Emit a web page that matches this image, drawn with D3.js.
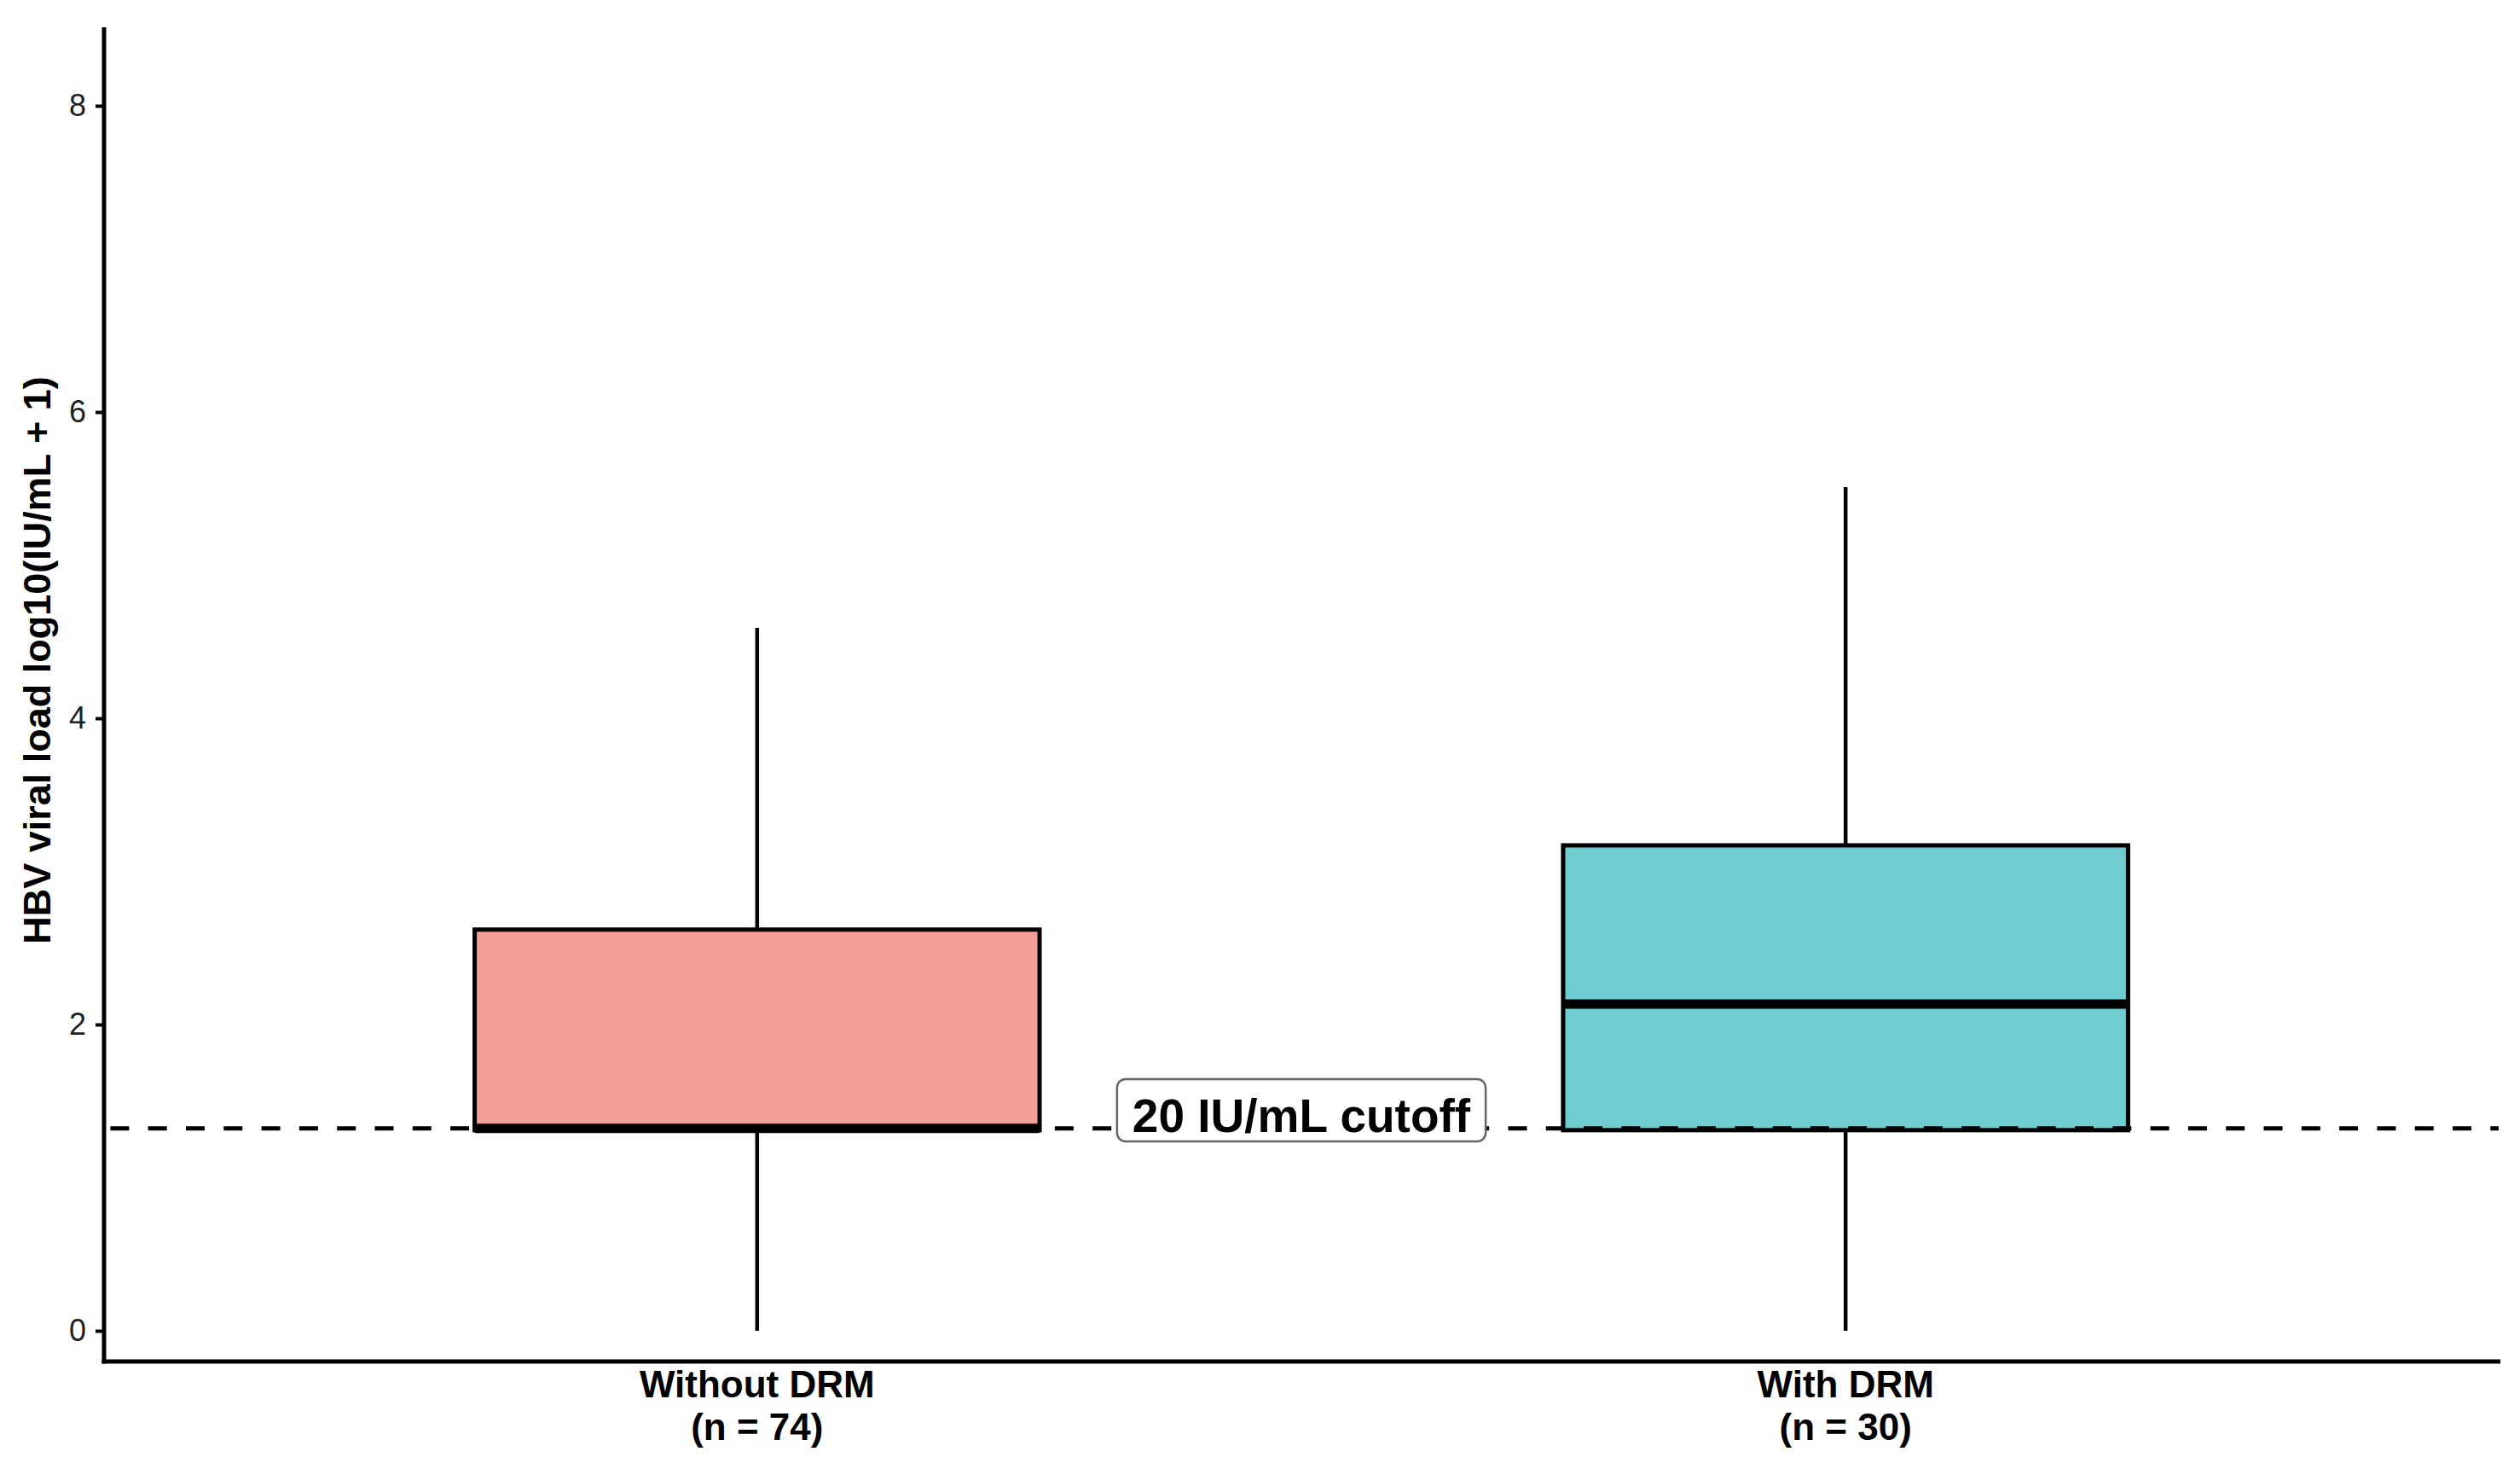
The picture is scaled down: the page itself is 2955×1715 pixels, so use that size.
<!DOCTYPE html>
<html>
<head>
<meta charset="utf-8">
<script src="https://cdn.jsdelivr.net/npm/d3@7"></script>
<style>
  html, body { margin: 0; padding: 0; background: #fff; }
  svg { display: block; }
  text { font-family: "Liberation Sans", Arial, sans-serif; }
</style>
</head>
<body>
<svg id="chart" width="2955" height="1715"></svg>
<script>
// ---- data ----
const categories = ["Without DRM", "With DRM"];
const sampleSizes = [74, 30];
const whiskerLow  = [0.00, 0.00];
const q1          = [1.31, 1.31];
const medians     = [1.322, 2.134];
const q3          = [2.62, 3.17];
const whiskerHigh = [4.59, 5.51];
const fillColors  = ["#F29E99", "#6FCDD2"];
const yTicks = [0, 2, 4, 6, 8];
const cutoffValue = Math.log10(21);
const cutoffLabel = "20 IU/mL cutoff";
const cutoffLabelY = 1.44;
const yTitle = "HBV viral load log10(IU/mL + 1)";

// ---- layout ----
const W = 2955, H = 1715;
const panel = { left: 122, right: 2930, top: 32, bottom: 1596 };

const svg = d3.select("#chart");

const y = d3.scaleLinear().domain([-0.2006, 8.5125]).range([panel.bottom, panel.top]);
const x = d3.scalePoint().domain(categories).range([panel.left, panel.right]).padding(0.6);
const step = x.step();
const boxW = step * 0.519;

const data = categories.map((c, i) => ({
  cat: c, n: sampleSizes[i], lo: whiskerLow[i], q1: q1[i], med: medians[i],
  q3: q3[i], hi: whiskerHigh[i], fill: fillColors[i]
}));

// whiskers & boxes
const g = svg.append("g");
data.forEach(d => {
  const cx = x(d.cat);
  g.append("line").attr("x1", cx).attr("x2", cx)
    .attr("y1", y(d.q3)).attr("y2", y(d.hi))
    .attr("stroke", "#000").attr("stroke-width", 4.5);
  g.append("line").attr("x1", cx).attr("x2", cx)
    .attr("y1", y(d.q1)).attr("y2", y(d.lo))
    .attr("stroke", "#000").attr("stroke-width", 4.5);
  g.append("rect")
    .attr("x", cx - boxW / 2).attr("width", boxW)
    .attr("y", y(d.q3)).attr("height", y(d.q1) - y(d.q3))
    .attr("fill", d.fill).attr("stroke", "#000").attr("stroke-width", 5);
  g.append("line")
    .attr("x1", cx - boxW / 2).attr("x2", cx + boxW / 2)
    .attr("y1", y(d.med)).attr("y2", y(d.med))
    .attr("stroke", "#000").attr("stroke-width", 11);
});

// cutoff dashed line
svg.append("line")
  .attr("x1", panel.left).attr("x2", panel.right)
  .attr("y1", y(cutoffValue)).attr("y2", y(cutoffValue))
  .attr("stroke", "#000").attr("stroke-width", 5)
  .attr("stroke-dasharray", "22,22.3")
  .attr("stroke-dashoffset", 36.9);

// cutoff label
const lx = (x(categories[0]) + x(categories[1])) / 2;
const ly = y(cutoffLabelY);
const lg = svg.append("g");
const lrect = lg.append("rect");
const ltext = lg.append("text")
  .attr("x", lx).attr("y", ly + 25.5)
  .attr("text-anchor", "middle")
  .attr("font-size", 55).attr("font-weight", "bold").attr("fill", "#000")
  .text(cutoffLabel);
const tw = ltext.node().getComputedTextLength();
lrect.attr("x", lx - tw / 2 - 18).attr("width", tw + 36)
  .attr("y", ly - 36.5).attr("height", 73)
  .attr("rx", 10).attr("ry", 10)
  .attr("fill", "#fff").attr("stroke", "#666").attr("stroke-width", 2.5);

// y axis
const yAxis = d3.axisLeft(y).tickValues(yTicks).tickSize(10).tickSizeOuter(0).tickPadding(11)
  .tickFormat(d3.format("d"));
const ya = svg.append("g").attr("transform", `translate(${panel.left},0)`).call(yAxis);
ya.select(".domain").attr("stroke", "#000").attr("stroke-width", 5)
  .attr("d", `M0,${panel.top}V${panel.bottom + 2.5}`);
ya.selectAll(".tick line").attr("stroke", "#000").attr("stroke-width", 4);
ya.selectAll(".tick text").attr("font-size", 36).attr("fill", "#222")
  .attr("font-family", "'Liberation Sans', Arial, sans-serif");

// x axis
const xAxis = d3.axisBottom(x).tickSize(0).tickSizeOuter(0).tickFormat(() => "");
const xa = svg.append("g").attr("transform", `translate(0,${panel.bottom})`).call(xAxis);
xa.select(".domain").attr("stroke", "#000").attr("stroke-width", 5)
  .attr("d", `M${panel.left - 2.5},0H${panel.right + 2}`);

// x labels (two lines)
data.forEach(d => {
  const t = svg.append("text")
    .attr("x", x(d.cat)).attr("text-anchor", "middle")
    .attr("font-size", 44).attr("font-weight", "bold").attr("fill", "#000");
  t.append("tspan").attr("x", x(d.cat)).attr("y", 1638).text(d.cat);
  t.append("tspan").attr("x", x(d.cat)).attr("y", 1688).text(`(n = ${d.n})`);
});

// y title
svg.append("text")
  .attr("transform", "translate(59,774) rotate(-90)")
  .attr("text-anchor", "middle")
  .attr("font-size", 45).attr("font-weight", "bold").attr("fill", "#000")
  .text(yTitle);
</script>
</body>
</html>
